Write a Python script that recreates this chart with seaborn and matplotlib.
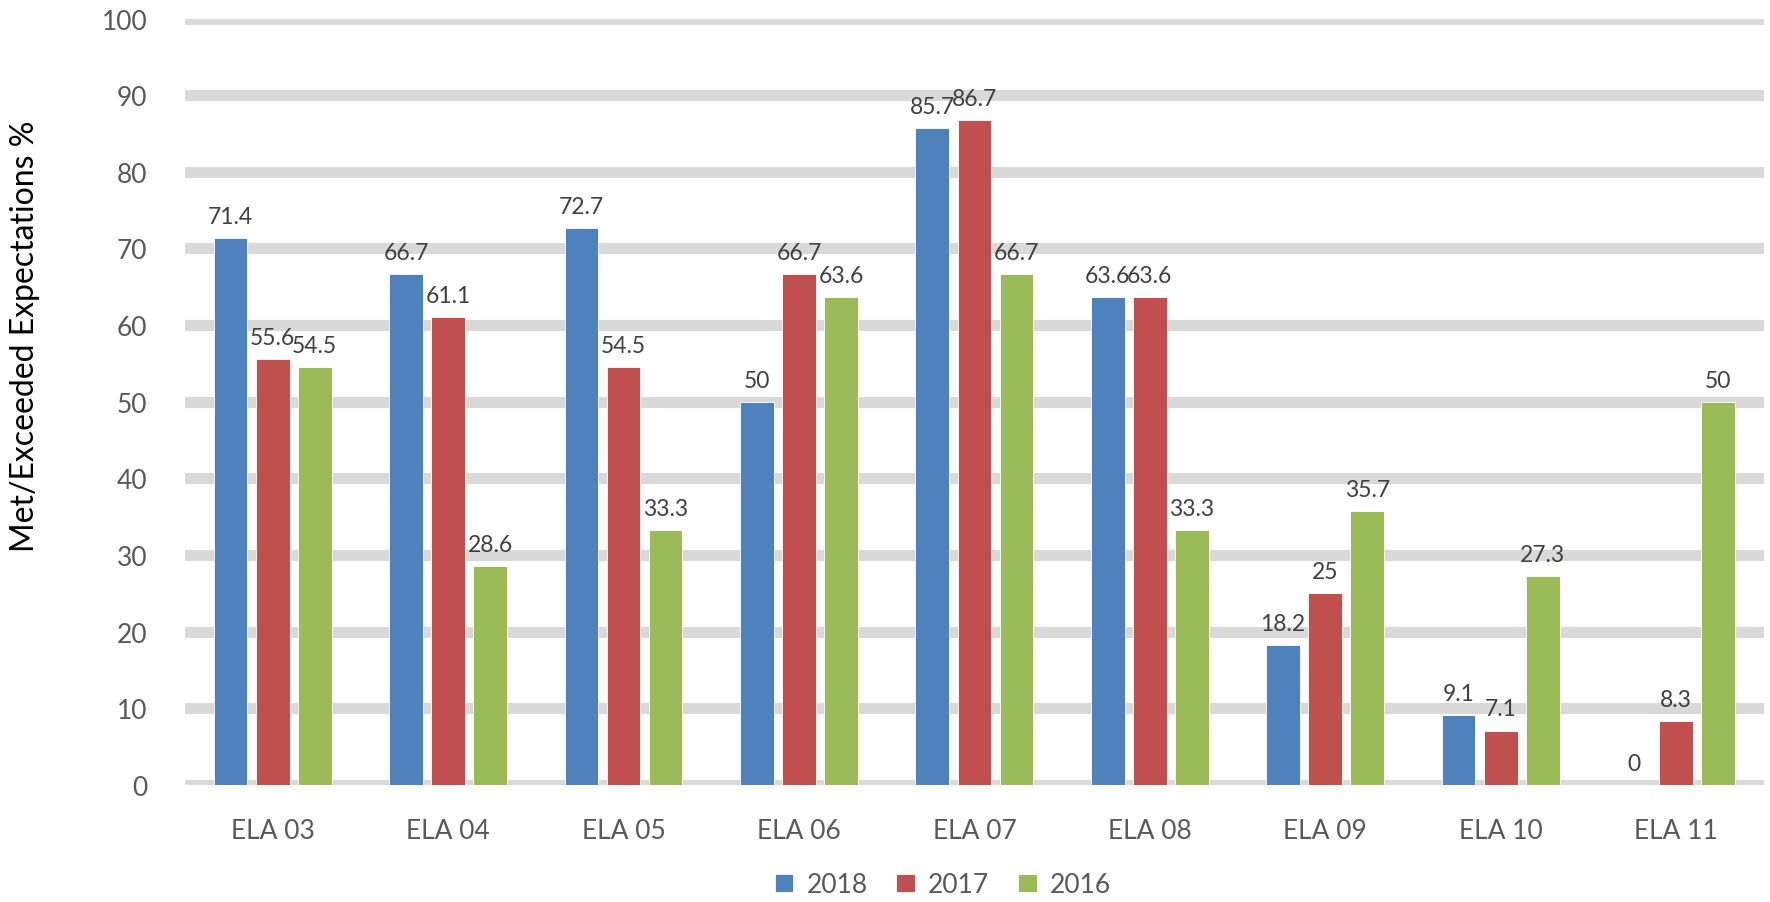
import matplotlib

matplotlib.use("Agg")
import matplotlib.pyplot as plt
import pandas as pd
import seaborn as sns

# data
categories = ["ELA 03", "ELA 04", "ELA 05", "ELA 06", "ELA 07",
              "ELA 08", "ELA 09", "ELA 10", "ELA 11"]
years = ["2018", "2017", "2016"]
vals_2018 = [71.4, 66.7, 72.7, 50, 85.7, 63.6, 18.2, 9.1, 0]
vals_2017 = [55.6, 61.1, 54.5, 66.7, 86.7, 63.6, 25, 7.1, 8.3]
vals_2016 = [54.5, 28.6, 33.3, 63.6, 66.7, 33.3, 35.7, 27.3, 50]
y_ticks = [0, 10, 20, 30, 40, 50, 60, 70, 80, 90, 100]

colors = {"2018": "#4F81BD", "2017": "#C0504D", "2016": "#9BBB59"}

df = pd.DataFrame({"category": categories, "2018": vals_2018,
                   "2017": vals_2017, "2016": vals_2016})
long = df.melt(id_vars="category", var_name="year", value_name="pct")

sns.set_theme(style="white")
plt.rcParams["font.family"] = ["Lato", "DejaVu Sans"]

fig = plt.figure(figsize=(17.7, 9.03), dpi=100)
ax = fig.add_axes([0.1045, 0.1296, 0.892, 0.8488])

sns.barplot(data=long, x="category", y="pct", hue="year",
            order=categories, hue_order=years, palette=colors,
            width=0.72, gap=0.2, edgecolor="white", linewidth=0.6,
            saturation=1, ax=ax)

for cont in ax.containers:
    ax.bar_label(cont, fmt="%g", padding=8, fontsize=16.5, color="#404040")

ax.set_ylim(0, 100)
ax.set_xlim(-0.5, len(categories) - 0.5)
ax.set_yticks(y_ticks)
ax.set_axisbelow(True)
ax.yaxis.grid(True, color="#D9D9D9", linewidth=8)
ax.xaxis.grid(False)
for s in ax.spines.values():
    s.set_visible(False)

ax.tick_params(axis="y", length=0, pad=27, labelsize=19, labelcolor="#595959")
ax.tick_params(axis="x", length=0, pad=24, labelsize=19, labelcolor="#595959")
ax.set_xlabel("")
ax.set_ylabel("Met/Exceeded Expectations %", fontsize=23, color="black")
ax.yaxis.set_label_coords(-0.092, 0.587)

sns.move_legend(ax, "center", bbox_to_anchor=(0.48, -0.13), ncol=3,
                frameon=False, title=None, fontsize=19,
                handlelength=0.7, handleheight=0.7, handletextpad=0.5,
                columnspacing=1.1)
for t in ax.get_legend().get_texts():
    t.set_color("#595959")

fig.savefig("out.png", dpi=100)
